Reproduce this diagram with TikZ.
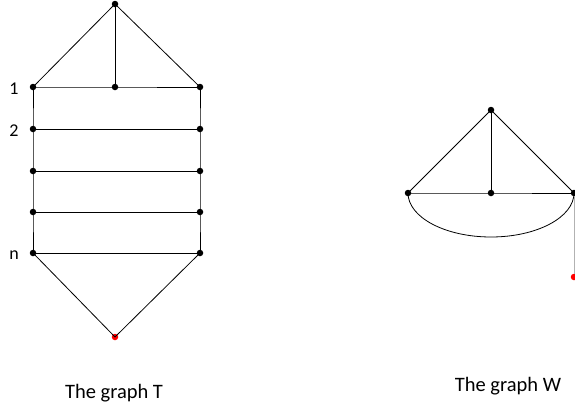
\documentclass[tikz,border=0pt]{standalone}
\usepackage{fontspec}
\setmainfont{Carlito}
\begin{document}
\begin{tikzpicture}[x=1pt,y=-1pt,
  vtx/.style={circle,fill=black,inner sep=0pt,minimum size=6.5pt},
  rvtx/.style={circle,fill=red,inner sep=0pt,minimum size=6.5pt},
  edge/.style={black,line width=0.8pt},
  lbl/.style={font=\fontsize{18}{20}\selectfont,inner sep=0pt},
  captxt/.style={font=\fontsize{20.5}{22}\selectfont,inner sep=0pt}]
\useasboundingbox (0,0) rectangle (575,410);
% graph T
\node[vtx] (t) at (115,4) {};
\node[vtx] (l1) at (33,87) {};
\node[vtx] (m1) at (115,87) {};
\node[vtx] (r1) at (200,87) {};
\node[vtx] (l2) at (33,129) {};
\node[vtx] (r2) at (200,129) {};
\node[vtx] (l3) at (33,171) {};
\node[vtx] (r3) at (200,171) {};
\node[vtx] (l4) at (33,212) {};
\node[vtx] (r4) at (200,212) {};
\node[vtx] (l5) at (33,253) {};
\node[vtx] (r5) at (200,253) {};
\node[rvtx] (b) at (115,337) {};
\draw[edge] (t.center) -- (l1.center);
\draw[edge] (t.center) -- (r1.center);
\draw[edge] (t.center) -- (m1.center);
\draw[edge] (l1.center) -- (m1.center) -- (r1.center);
\draw[edge] (l2.center) -- (r2.center);
\draw[edge] (l3.center) -- (r3.center);
\draw[edge] (l4.center) -- (r4.center);
\draw[edge] (l5.center) -- (r5.center);
\draw[edge] (l1.center) -- (l2.center) -- (l3.center) -- (l4.center) -- (l5.center);
\draw[edge] (r1.center) -- (r2.center) -- (r3.center) -- (r4.center) -- (r5.center);
\draw[edge] (l5.center) -- (b.center);
\draw[edge] (r5.center) -- (b.center);
\node[lbl] (n1) at (14,89) {1};
\node[lbl] (n2) at (14,131) {2};
\node[lbl] (nn) at (14,255) {n};
\node[captxt] (capT) at (114,393) {The graph T};
% graph W
\node[vtx] (wt) at (491,110) {};
\node[vtx] (wl) at (408,193) {};
\node[vtx] (wm) at (491,193) {};
\node[vtx] (wr) at (574,193) {};
\node[rvtx] (wb) at (574,277) {};
\draw[edge] (wt.center) -- (wl.center);
\draw[edge] (wt.center) -- (wr.center);
\draw[edge] (wt.center) -- (wm.center);
\draw[edge] (wl.center) -- (wm.center) -- (wr.center);
\draw[edge] (wl.center) arc[start angle=180,end angle=0,x radius=83,y radius=44];
\draw[gray!60,line width=0.5pt] (wr) -- (wb);
\node[captxt] (capW) at (508,386) {The graph W};
\end{tikzpicture}
\end{document}
